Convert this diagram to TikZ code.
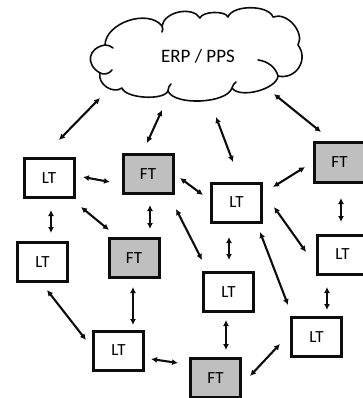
\documentclass[tikz,border=0pt]{standalone}
\usepackage{fontspec}
\setmainfont{Carlito}
\usetikzlibrary{arrows.meta}
\definecolor{boxgray}{HTML}{BFBFBF}
\definecolor{ink}{HTML}{0D0D0D}
\tikzset{
  unit/.style={draw=ink, line width=3pt, minimum width=50pt, minimum height=39pt,
    inner sep=0pt, font=\fontsize{17}{17}\selectfont},
  ltbox/.style={unit, fill=white},
  ftbox/.style={unit, fill=boxgray},
  link/.style={draw=ink, line width=2.1pt, {Latex[length=6pt,width=6pt]}-{Latex[length=6pt,width=6pt]}},
  cloudline/.style={draw=ink, line width=1.6pt, line join=round, line cap=round},
  puff/.style={bend left=70, looseness=#1},
}
\begin{document}
\begin{tikzpicture}[x=1pt,y=-1pt]
  \useasboundingbox (0,0) rectangle (363,398);
  \clip (0,0) rectangle (363,398);
  % cloud outline of the central planning system
  \draw[cloudline, fill=white]
    (100,73) to[puff=1.55] (105,45) to[puff=0.95] (162,26) to[puff=0.95] (200,18)
    to[puff=0.65] (228,17) to[puff=0.75] (273,17) to[puff=1.0] (298,45)
    to[puff=1.27] (278,76) to[puff=0.72] (232,88) to[puff=0.65] (168,91)
    to[puff=0.6] (122,88) to[puff=1.08] (100,73);
  % inner curls of the cloud
  \draw[cloudline] (100,73) .. controls (104,75) and (109,74) .. (112,70);
  \draw[cloudline] (105,45) .. controls (108,45) and (111,46) .. (113,48);
  \draw[cloudline] (162,26) .. controls (163,28) and (163,30) .. (162,32);
  \draw[cloudline] (278,76) .. controls (276,68) and (268,61) .. (258,60);
  \draw[cloudline] (168,91) .. controls (168,88) and (169,86) .. (171,84);
  \draw[cloudline] (232,88) .. controls (233,85) and (234,83) .. (236,82);
  \node[font=\fontsize{19}{19}\selectfont, inner sep=0pt] (erp) at (198,56.5) {ERP / PPS};
  % transport units
  \node[ltbox] (lt1) at (49,178)    {LT};
  \node[ftbox] (ft1) at (148,174)   {FT};
  \node[ltbox] (lt2) at (236.5,202.5) {LT};
  \node[ftbox] (ft4) at (339.5,162.5) {FT};
  \node[ltbox] (lt3) at (42.5,262)  {LT};
  \node[ftbox] (ft2) at (134,258)   {FT};
  \node[ltbox] (lt4) at (342.5,254.5) {LT};
  \node[ltbox] (lt5) at (228.5,292) {LT};
  \node[ltbox] (lt6) at (118.5,350.5) {LT};
  \node[ftbox] (ft3) at (215.5,378) {FT};
  \node[ltbox] (lt7) at (316.5,337) {LT};
  % communication links
  \draw[link] ([shift={(-98,41.5)}]erp.center) -- ([shift={(10,-38)}]lt1.center);
  \draw[link] ([shift={(-36,53.5)}]erp.center) -- ([shift={(-1,-31)}]ft1.center);
  \draw[link] ([shift={(18,60.5)}]erp.center) -- ([shift={(-3.5,-40.5)}]lt2.center);
  \draw[link] ([shift={(76,37.5)}]erp.center) -- ([shift={(-18.5,-30.5)}]ft4.center);
  \draw[link] ([shift={(34,-1)}]lt1.center) -- ([shift={(-38,8)}]ft1.center);
  \draw[link] ([shift={(32,4)}]ft1.center) -- ([shift={(-33.5,-7.5)}]lt2.center);
  \draw[link] ([shift={(-34.5,4.5)}]ft4.center) -- ([shift={(36.5,-15.5)}]lt2.center);
  \draw[link] ([shift={(2,32)}]lt1.center) -- ([shift={(8.5,-29)}]lt3.center);
  \draw[link] ([shift={(32,29)}]lt1.center) -- ([shift={(-25,-28)}]ft2.center);
  \draw[link] ([shift={(2,31)}]ft1.center) -- ([shift={(16,-29)}]ft2.center);
  \draw[link] ([shift={(28,35)}]ft1.center) -- ([shift={(-26.5,-32)}]lt5.center);
  \draw[link] ([shift={(-7.5,34.5)}]lt2.center) -- ([shift={(0.5,-32)}]lt5.center);
  \draw[link] ([shift={(37.5,4.5)}]lt2.center) -- ([shift={(-36.5,-2.5)}]lt4.center);
  \draw[link] ([shift={(23.5,29.5)}]lt2.center) -- ([shift={(-28.5,-32)}]lt7.center);
  \draw[link] ([shift={(1.5,35.5)}]ft4.center) -- ([shift={(-1.5,-32.5)}]lt4.center);
  \draw[link] ([shift={(-15.5,32.5)}]lt4.center) -- ([shift={(10.5,-27)}]lt7.center);
  \draw[link] ([shift={(4.5,28)}]lt3.center) -- ([shift={(-32.5,-10.5)}]lt6.center);
  \draw[link] ([shift={(-1,29)}]ft2.center) -- ([shift={(14.5,-25.5)}]lt6.center);
  \draw[link] ([shift={(-2.5,28)}]lt5.center) -- ([shift={(10.5,-28)}]ft3.center);
  \draw[link] ([shift={(32.5,8.5)}]lt6.center) -- ([shift={(-37.5,-15)}]ft3.center);
  \draw[link] ([shift={(-36.5,7)}]lt7.center) -- ([shift={(34.5,-2)}]ft3.center);
\end{tikzpicture}
\end{document}
